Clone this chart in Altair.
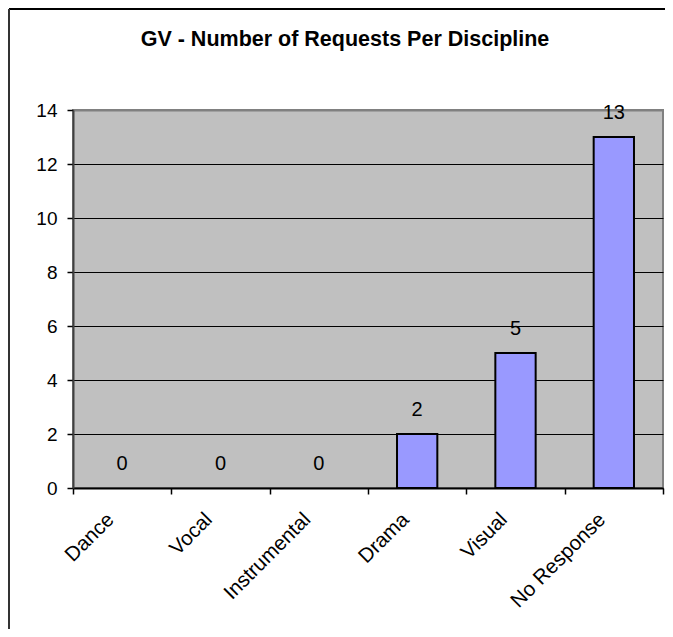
import altair as alt
import pandas as pd

categories = ["Dance", "Vocal", "Instrumental", "Drama", "Visual", "No Response"]
counts = [0, 0, 0, 2, 5, 13]
y_ticks = [0, 2, 4, 6, 8, 10, 12, 14]
title_text = "GV - Number of Requests Per Discipline"

df = pd.DataFrame({"Discipline": categories, "Requests": counts})
frame_df = pd.DataFrame({"k": [0]})
title_df = pd.DataFrame({"t": [title_text]})

W, H = 590, 378
FONT = "Liberation Sans"

x_enc = alt.X(
    "Discipline:N",
    sort=categories,
    scale=alt.Scale(paddingInner=0, paddingOuter=0),
    axis=alt.Axis(
        title=None, labelAngle=-45, labelFontSize=20.5, labelFont=FONT,
        labelColor="black", tickBand="extent", tickSize=6, tickColor="black",
        tickWidth=1.5, domainColor="black", domainWidth=2, labelPadding=15,
        labelOffset=-19, grid=False,
    ),
)
y_enc = alt.Y(
    "Requests:Q",
    scale=alt.Scale(domain=[0, 14], nice=False),
    axis=alt.Axis(
        title=None, values=y_ticks, labelFontSize=19, labelFont=FONT,
        labelColor="black", tickSize=6, tickColor="black", tickWidth=1.5,
        domainColor="#404040", domainWidth=2, labelPadding=10,
        grid=True,
        gridColor={"condition": {"test": "datum.value === 14", "value": "#808080"}, "value": "black"},
        gridWidth={"condition": {"test": "datum.value === 14", "value": 2}, "value": 1},
    ),
)

bars = alt.Chart(df).mark_bar(
    color="#9999FF", stroke="black", width=alt.RelativeBandSize(0.41)
).encode(
    x=x_enc,
    y=y_enc,
    strokeWidth=alt.condition(alt.datum.Requests > 0, alt.value(2), alt.value(0)),
)

labels = alt.Chart(df).mark_text(
    fontSize=20, font=FONT, color="black", dy=-24, baseline="middle"
).encode(x=alt.X("Discipline:N", sort=categories), y="Requests:Q", text="Requests:Q")

title = alt.Chart(title_df).mark_text(
    fontSize=21.5, font=FONT, fontWeight="bold", color="black",
    align="center", baseline="alphabetic"
).encode(text="t:N", x=alt.value(272), y=alt.value(-64))

frame_top = alt.Chart(frame_df).mark_rule(color="black", strokeWidth=2).encode(
    x=alt.value(-64), x2=alt.value(W + 40), y=alt.value(-101)
)
frame_left = alt.Chart(frame_df).mark_rule(color="#333333", strokeWidth=2).encode(
    x=alt.value(-64), y=alt.value(-101), y2=alt.value(H + 200)
)

chart = (
    alt.layer(bars, labels, title, frame_top, frame_left)
    .properties(
        width=W,
        height=H,
        autosize=alt.AutoSizeParams(type="none"),
        padding={"left": 65, "top": 102, "right": 2, "bottom": 141},
    )
    .configure_view(fill="#C0C0C0", stroke="#808080", strokeWidth=2)
)

chart.save("out.html", embed_options={"renderer": "svg", "actions": False})
